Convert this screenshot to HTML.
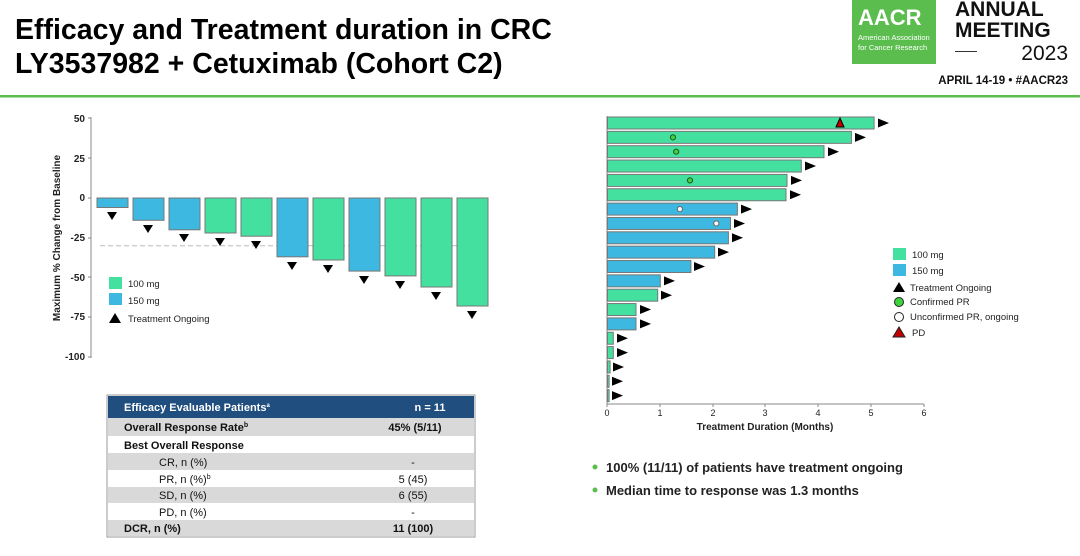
<!DOCTYPE html>
<html><head><meta charset="utf-8"><style>
body{margin:0;background:#fff;}
svg{display:block;font-family:"Liberation Sans",Arial,sans-serif;}
</style></head><body>
<svg width="1080" height="556" viewBox="0 0 1080 556" xmlns="http://www.w3.org/2000/svg">
<text x="15" y="39" font-size="28.5" font-weight="bold" fill="#000">Efficacy and Treatment duration in CRC</text>
<text x="15" y="73" font-size="28.5" font-weight="bold" fill="#000">LY3537982 + Cetuximab (Cohort C2)</text>
<rect x="0" y="95" width="1080" height="2.5" fill="#5cbd4f"/>
<rect x="852" y="0" width="84" height="64" fill="#5cbd4f"/>
<text x="858" y="25" font-size="22" font-weight="bold" fill="#fff">AACR</text>
<text x="858" y="40" font-size="7.5" fill="#fff">American Association</text>
<text x="858" y="50" font-size="7.5" fill="#fff">for Cancer Research</text>
<text x="955" y="16" font-size="21" font-weight="bold" fill="#111">ANNUAL</text>
<text x="955" y="37" font-size="21" font-weight="bold" fill="#111">MEETING</text>
<rect x="955" y="51" width="22" height="1" fill="#333"/>
<text x="1068" y="60" font-size="21" text-anchor="end" fill="#111">2023</text>
<text x="1068" y="84" font-size="11.5" font-weight="bold" text-anchor="end" fill="#111">APRIL 14-19 • #AACR23</text>

<!-- Left waterfall -->
<line x1="91" y1="117" x2="91" y2="358" stroke="#888"/>
<g font-size="10" font-weight="bold" fill="#222" text-anchor="end">
<text x="85" y="122">50</text><text x="85" y="162">25</text><text x="85" y="201">0</text>
<text x="85" y="241">-25</text><text x="85" y="281">-50</text><text x="85" y="320">-75</text><text x="85" y="360">-100</text>
</g>
<g stroke="#888"><line x1="88" y1="118" x2="91" y2="118"/><line x1="88" y1="158" x2="91" y2="158"/><line x1="88" y1="198" x2="91" y2="198"/><line x1="88" y1="238" x2="91" y2="238"/><line x1="88" y1="277" x2="91" y2="277"/><line x1="88" y1="317" x2="91" y2="317"/><line x1="88" y1="357" x2="91" y2="357"/></g>
<text transform="translate(60,238) rotate(-90)" font-size="10" font-weight="bold" text-anchor="middle" fill="#222">Maximum % Change from Baseline</text>
<line x1="100" y1="245.7" x2="488" y2="245.7" stroke="#bbb" stroke-dasharray="5,3"/>
<g stroke="#777" stroke-width="1">
<rect x="97" y="198" width="31" height="9.5" fill="#3db8e0"/>
<rect x="133" y="198" width="31" height="22.3" fill="#3db8e0"/>
<rect x="169" y="198" width="31" height="31.8" fill="#3db8e0"/>
<rect x="205" y="198" width="31" height="35" fill="#43e0a0"/>
<rect x="241" y="198" width="31" height="38.2" fill="#43e0a0"/>
<rect x="277" y="198" width="31" height="58.8" fill="#3db8e0"/>
<rect x="313" y="198" width="31" height="62" fill="#43e0a0"/>
<rect x="349" y="198" width="31" height="73.1" fill="#3db8e0"/>
<rect x="385" y="198" width="31" height="77.9" fill="#43e0a0"/>
<rect x="421" y="198" width="31" height="89" fill="#43e0a0"/>
<rect x="457" y="198" width="31" height="108" fill="#43e0a0"/>
</g>
<g fill="#000">
<polygon points="107,212 117,212 112,220"/>
<polygon points="143,225 153,225 148,233"/>
<polygon points="179,234 189,234 184,242"/>
<polygon points="215,238 225,238 220,246"/>
<polygon points="251,241 261,241 256,249"/>
<polygon points="287,262 297,262 292,270"/>
<polygon points="323,265 333,265 328,273"/>
<polygon points="359,276 369,276 364,284"/>
<polygon points="395,281 405,281 400,289"/>
<polygon points="431,292 441,292 436,300"/>
<polygon points="467,311 477,311 472,319"/>
</g>
<rect x="109" y="277" width="13" height="12" fill="#43e0a0"/>
<rect x="109" y="293" width="13" height="12" fill="#3db8e0"/>
<polygon points="109,323 121,323 115,313" fill="#000"/>
<g font-size="9.5" fill="#222"><text x="128" y="287">100 mg</text><text x="128" y="304">150 mg</text><text x="128" y="322">Treatment Ongoing</text></g>

<!-- Table -->
<rect x="107" y="395" width="368" height="142" fill="#fff" stroke="#999"/>
<rect x="108" y="396" width="366" height="22" fill="#1f4e7f"/>
<rect x="108" y="418" width="366" height="18" fill="#d9d9d9"/>
<rect x="108" y="453" width="366" height="17" fill="#d9d9d9"/>
<rect x="108" y="487" width="366" height="16" fill="#d9d9d9"/>
<rect x="108" y="520" width="366" height="16" fill="#d9d9d9"/>
<g font-size="11" fill="#111">
<text x="124" y="411" fill="#fff" font-weight="bold">Efficacy  Evaluable  Patients<tspan font-size="6" dy="-4">a</tspan></text>
<text x="430" y="411" fill="#fff" font-weight="bold" text-anchor="middle">n = 11</text>
<text x="124" y="431" font-weight="bold">Overall Response Rate<tspan font-size="7" dy="-4">b</tspan></text>
<text x="415" y="431" font-weight="bold" text-anchor="middle">45% (5/11)</text>
<text x="124" y="449" font-weight="bold">Best Overall Response</text>
<text x="159" y="466">CR, n (%)</text><text x="413" y="466" text-anchor="middle">-</text>
<text x="159" y="483">PR, n (%)<tspan font-size="7" dy="-4">b</tspan></text><text x="413" y="483" text-anchor="middle">5 (45)</text>
<text x="159" y="499">SD, n (%)</text><text x="413" y="499" text-anchor="middle">6 (55)</text>
<text x="159" y="516">PD, n (%)</text><text x="413" y="516" text-anchor="middle">-</text>
<text x="124" y="532" font-weight="bold">DCR, n (%)</text><text x="413" y="532" font-weight="bold" text-anchor="middle">11 (100)</text>
</g>

<!-- Right swimmer -->
<line x1="607" y1="116" x2="607" y2="404" stroke="#888"/>
<line x1="607" y1="404" x2="924" y2="404" stroke="#888"/>
<g stroke="#888"><line x1="607" y1="404" x2="607" y2="407"/><line x1="660" y1="404" x2="660" y2="407"/><line x1="713" y1="404" x2="713" y2="407"/><line x1="765" y1="404" x2="765" y2="407"/><line x1="818" y1="404" x2="818" y2="407"/><line x1="871" y1="404" x2="871" y2="407"/><line x1="924" y1="404" x2="924" y2="407"/></g>
<g font-size="9" fill="#222" text-anchor="middle"><text x="607" y="416">0</text><text x="660" y="416">1</text><text x="713" y="416">2</text><text x="765" y="416">3</text><text x="818" y="416">4</text><text x="871" y="416">5</text><text x="924" y="416">6</text></g>
<text x="765" y="430" font-size="10" font-weight="bold" text-anchor="middle" fill="#222">Treatment Duration (Months)</text>
<g stroke="#777">
<rect x="607.5" y="117" width="266.6" height="12" fill="#43e0a0"/>
<rect x="607.5" y="131.35" width="243.9" height="12" fill="#43e0a0"/>
<rect x="607.5" y="145.7" width="216.5" height="12" fill="#43e0a0"/>
<rect x="607.5" y="160.05" width="193.8" height="12" fill="#43e0a0"/>
<rect x="607.5" y="174.4" width="179.5" height="12" fill="#43e0a0"/>
<rect x="607.5" y="188.75" width="178.5" height="12" fill="#43e0a0"/>
<rect x="607.5" y="203.1" width="129.9" height="12" fill="#3db8e0"/>
<rect x="607.5" y="217.45" width="123" height="12" fill="#3db8e0"/>
<rect x="607.5" y="231.8" width="120.9" height="12" fill="#3db8e0"/>
<rect x="607.5" y="246.15" width="107.2" height="12" fill="#3db8e0"/>
<rect x="607.5" y="260.5" width="83.4" height="12" fill="#3db8e0"/>
<rect x="607.5" y="274.85" width="52.8" height="12" fill="#3db8e0"/>
<rect x="607.5" y="289.2" width="50.2" height="12" fill="#43e0a0"/>
<rect x="607.5" y="303.55" width="28.5" height="12" fill="#43e0a0"/>
<rect x="607.5" y="317.9" width="28.5" height="12" fill="#3db8e0"/>
<rect x="607.5" y="332.25" width="5.8" height="12" fill="#43e0a0"/>
<rect x="607.5" y="346.6" width="5.8" height="12" fill="#43e0a0"/>
<rect x="607.5" y="360.95" width="2.6" height="12" fill="#43e0a0"/>
<rect x="607.5" y="375.3" width="1.6" height="12" fill="#43e0a0"/>
<rect x="607.5" y="389.65" width="1.6" height="12" fill="#43e0a0"/>
</g>
<g fill="#000">
<polygon points="878,118.5 878,127.5 889,123"/>
<polygon points="855,132.85 855,141.85 866,137.35"/>
<polygon points="828,147.2 828,156.2 839,151.7"/>
<polygon points="805,161.55 805,170.55 816,166.05"/>
<polygon points="791,175.9 791,184.9 802,180.4"/>
<polygon points="790,190.25 790,199.25 801,194.75"/>
<polygon points="741,204.6 741,213.6 752,209.1"/>
<polygon points="734,218.95 734,227.95 745,223.45"/>
<polygon points="732,233.3 732,242.3 743,237.8"/>
<polygon points="718,247.65 718,256.65 729,252.15"/>
<polygon points="694,262 694,271 705,266.5"/>
<polygon points="664,276.35 664,285.35 675,280.85"/>
<polygon points="661,290.7 661,299.7 672,295.2"/>
<polygon points="640,305.05 640,314.05 651,309.55"/>
<polygon points="640,319.4 640,328.4 651,323.9"/>
<polygon points="617,333.75 617,342.75 628,338.25"/>
<polygon points="617,348.1 617,357.1 628,352.6"/>
<polygon points="613,362.45 613,371.45 624,366.95"/>
<polygon points="612,376.8 612,385.8 623,381.3"/>
<polygon points="612,391.15 612,400.15 623,395.65"/>
</g>
<polygon points="836,127 844,127 840,118" fill="#c00000" stroke="#000"/>
<circle cx="673" cy="137.35" r="2.6" fill="#3ed23e" stroke="#225522"/>
<circle cx="676.2" cy="151.7" r="2.6" fill="#3ed23e" stroke="#225522"/>
<circle cx="690" cy="180.4" r="2.6" fill="#3ed23e" stroke="#225522"/>
<circle cx="679.9" cy="209.1" r="2.6" fill="#fff" stroke="#666"/>
<circle cx="716.3" cy="223.45" r="2.6" fill="#fff" stroke="#666"/>

<rect x="893" y="248" width="13" height="12" fill="#43e0a0"/>
<rect x="893" y="264" width="13" height="12" fill="#3db8e0"/>
<polygon points="893,292 905,292 899,282" fill="#000"/>
<circle cx="899" cy="302" r="4.5" fill="#3ed23e" stroke="#222"/>
<circle cx="899" cy="317" r="4.5" fill="#fff" stroke="#222"/>
<polygon points="893,337 905,337 899,327" fill="#c00000" stroke="#222"/>
<g font-size="9.5" fill="#222"><text x="912" y="258">100 mg</text><text x="912" y="274">150 mg</text><text x="910" y="291">Treatment Ongoing</text><text x="910" y="305">Confirmed PR</text><text x="910" y="320">Unconfirmed PR, ongoing</text><text x="912" y="336">PD</text></g>

<circle cx="595" cy="467" r="2.5" fill="#5cbd4f"/>
<circle cx="595" cy="490" r="2.5" fill="#5cbd4f"/>
<g font-size="13" font-weight="bold" fill="#222"><text x="606" y="472">100% (11/11) of patients have treatment ongoing</text><text x="606" y="495">Median time to response was 1.3 months</text></g>
</svg>
</body></html>
